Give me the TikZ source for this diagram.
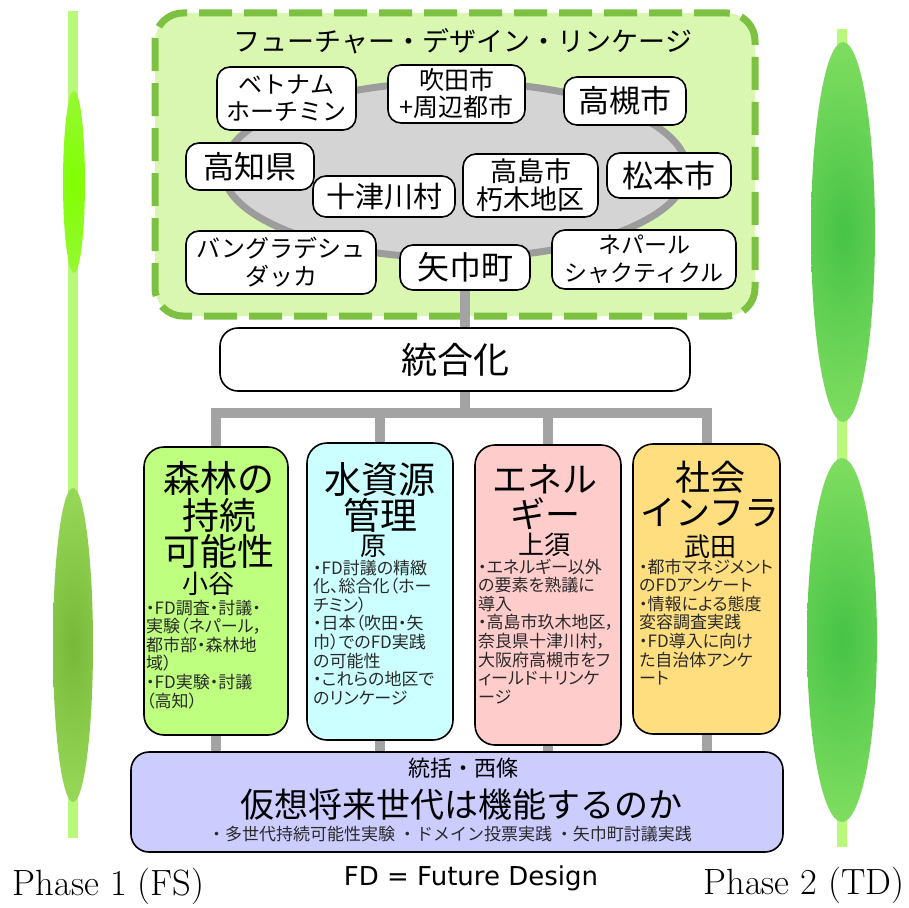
\documentclass[tikz,border=0pt]{standalone}
\usepackage{fontspec}
\usetikzlibrary{shapes.geometric}
\newfontfamily\jp{Noto Sans CJK JP}
\newfontfamily\jpp[RawFeature=+palt]{Noto Sans CJK JP}
\newfontfamily\fdsans{DejaVu Sans}
\definecolor{phl}{HTML}{B8F87A}
\definecolor{phAc}{HTML}{80FF00}
\definecolor{phAo}{HTML}{ABF265}
\definecolor{phBc}{HTML}{78B838}
\definecolor{phRc}{HTML}{46C346}
\definecolor{fdg}{HTML}{7CC142}
\definecolor{fdf}{HTML}{D9F7B0}
\definecolor{ellf}{HTML}{D4D4D4}
\definecolor{ellb}{HTML}{9C9C9C}
\definecolor{connc}{HTML}{A3A3A3}
\definecolor{tgreen}{HTML}{BFFF80}
\definecolor{tcyan}{HTML}{CCFFFF}
\definecolor{tpink}{HTML}{FFCCCC}
\definecolor{tyell}{HTML}{FFDE80}
\definecolor{tlav}{HTML}{CCCCFF}
\definecolor{bodyc}{HTML}{2A2A2A}
\pgfdeclareradialshading{shLA}{\pgfpoint{0bp}{0bp}}{color(0bp)=(phAc); color(50bp)=(phAo)}
\pgfdeclareradialshading{shLB}{\pgfpoint{0bp}{0bp}}{color(0bp)=(phBc); color(50bp)=(phl)}
\pgfdeclareradialshading{shR}{\pgfpoint{0bp}{0bp}}{color(0bp)=(phRc); color(50bp)=(phl)}
\pgfdeclarelayer{back}
\pgfdeclarelayer{mid}
\pgfsetlayers{back,mid,main}
\begin{document}
\begin{tikzpicture}[x=1pt,y=-1pt,
  loc/.style={draw=black,line width=1.6pt,fill=white,rounded corners=13pt,inner sep=0pt,align=center,text=black},
  theme/.style={draw=black,line width=1.6pt,rounded corners=20pt,inner sep=0pt},
  ttlA/.style={inner sep=0pt,align=center,font=\jp\fontsize{37}{36.75}\selectfont},
  ttlB/.style={inner sep=0pt,align=center,font=\jp\fontsize{35}{35}\selectfont},
  nm/.style={inner sep=0pt,font=\jp\fontsize{26}{26}\selectfont},
  body/.style={inner sep=0pt,align=left,anchor=north west,text=bodyc,font=\jpp\fontsize{17}{18.6}\selectfont},
  conn/.style={draw=connc,line width=10pt},
  phlabel/.style={inner sep=0pt,font=\fontsize{36.5}{36.5}\selectfont}
]
\useasboundingbox (0,0) rectangle (909,907);

% phase bars
\fill[phl] (68,11) rectangle (78,838);
\begin{scope}
\clip (74,182) ellipse [x radius=11pt,y radius=91pt];
\shade[shading=shLA] (46.5,91) rectangle (101.5,273);
\end{scope}
\begin{scope}
\clip (73,645) ellipse [x radius=20pt,y radius=157pt];
\shade[shading=shLB] (23,488) rectangle (123,802);
\end{scope}
\fill[phl] (837,29) rectangle (847,847);
\begin{scope}
\clip (843,232) ellipse [x radius=32pt,y radius=190pt];
\shade[shading=shR] (763,42) rectangle (923,422);
\end{scope}
\begin{scope}
\clip (842,640) ellipse [x radius=35pt,y radius=182pt];
\shade[shading=shR] (754.5,458) rectangle (929.5,822);
\end{scope}
\node[phlabel] (p1) at (108.5,886) {Phase 1 (FS)};
\node[phlabel] (p2) at (804,885) {Phase 2 (TD)};
\node[inner sep=0pt,font=\fdsans\fontsize{26}{26}\selectfont] (fdn) at (471,878) {FD = Future Design};

% linkage area
\begin{pgfonlayer}{back}
\node[draw=fdg,fill=fdf,line width=7pt,dash pattern=on 33pt off 12pt,rounded corners=28pt,
      minimum width=600pt,minimum height=303pt,inner sep=0pt] (fdl) at (455,164.5) {};
\node[ellipse,draw=ellb,fill=ellf,line width=7pt,minimum width=464pt,minimum height=176pt,inner sep=0pt] (ring) at (455,170) {};
\end{pgfonlayer}
\node[inner sep=0pt,font=\jp\fontsize{27}{27}\selectfont] (ttl) at (463,41) {フューチャー・デザイン・リンケージ};

\node[loc,minimum width=139pt,minimum height=63pt,font=\jp\fontsize{24}{27}\selectfont] (viet) at (286.5,98.5) {ベトナム\\ホーチミン};
\node[loc,minimum width=137pt,minimum height=58pt,font=\jp\fontsize{25}{27}\selectfont] (suita) at (456.5,94) {吹田市\\+周辺都市};
\node[loc,minimum width=122pt,minimum height=48pt,font=\jp\fontsize{31}{31}\selectfont] (taka) at (625,101) {高槻市};
\node[loc,minimum width=128pt,minimum height=47pt,font=\jp\fontsize{31}{31}\selectfont] (kochi) at (250,166.5) {高知県};
\node[loc,minimum width=142pt,minimum height=41pt,font=\jp\fontsize{29}{29}\selectfont] (totsu) at (384,196.5) {十津川村};
\node[loc,minimum width=135pt,minimum height=63pt,font=\jp\fontsize{27}{28}\selectfont] (tksm) at (530.5,185.5) {高島市\\朽木地区};
\node[loc,minimum width=124pt,minimum height=45pt,font=\jp\fontsize{31}{31}\selectfont] (matsu) at (669,175.5) {松本市};
\node[loc,minimum width=190pt,minimum height=63pt,font=\jp\fontsize{24}{28}\selectfont] (bang) at (281,262.5) {バングラデシュ\\ダッカ};
\node[loc,minimum width=130pt,minimum height=45pt,font=\jp\fontsize{32}{32}\selectfont] (yahaba) at (465,267.5) {矢巾町};
\node[loc,minimum width=184pt,minimum height=59pt,font=\jp\fontsize{23}{28}\selectfont] (nepal) at (644,259.5) {ネパール\\シャクティクル};

% integration
\node[loc,rounded corners=18pt,minimum width=470pt,minimum height=63pt,font=\jp\fontsize{36}{36}\selectfont] (togo) at (455,359.5) {統合化};
\coordinate (hub) at (465,413);

% theme boxes
\node[theme,fill=tgreen,minimum width=144pt,minimum height=288pt] (b1) at (216,591) {};
\node[theme,fill=tcyan,minimum width=146pt,minimum height=297pt] (b2) at (380,591.5) {};
\node[theme,fill=tpink,minimum width=146pt,minimum height=300pt] (b3) at (548,595) {};
\node[theme,fill=tyell,minimum width=147pt,minimum height=290pt] (b4) at (706.5,589) {};

\node[ttlA] (t1) at (219,515) {森林の\\持続\\可能性};
\node[nm] (n1) at (208,584) {小谷};
\node[body] (d1) at (146,599.5) {・FD調査・討議・\\実験（ネパール，\\都市部・森林地\\域）\\・FD実験・討議\\（高知）};

\node[ttlA] (t2) at (380,497.5) {水資源\\管理};
\node[nm] (n2) at (373,546) {原};
\node[body] (d2) at (313,559.5) {・FD討議の精緻\\化、総合化（ホー\\チミン）\\・日本（吹田・矢\\巾）でのFD実践\\の可能性\\・これらの地区で\\のリンケージ};

\node[ttlB] (t3) at (545,497.5) {エネル\\ギー};
\node[nm] (n3) at (544,545) {上須};
\node[body] (d3) at (478,558.5) {・エネルギー以外\\の要素を熟議に\\導入\\・高島市玖木地区，\\奈良県十津川村，\\大阪府高槻市をフ\\ィールド＋リンケ\\ージ};

\node[ttlB] (t4) at (710,494.5) {社会\\インフラ};
\node[nm] (n4) at (710,547) {武田};
\node[body] (d4) at (639,558.5) {・都市マネジメント\\のFDアンケート\\・情報による態度\\変容調査実践\\・FD導入に向け\\た自治体アンケ\\ート};

% bottom box
\node[theme,fill=tlav,rounded corners=18pt,minimum width=652pt,minimum height=100pt] (bot) at (457,802) {};
\node[inner sep=0pt,font=\jp\fontsize{22}{22}\selectfont] (bt1) at (463,768) {統括・西條};
\node[inner sep=0pt,font=\jp\fontsize{34}{34}\selectfont] (bt2) at (461,805) {仮想将来世代は機能するのか};
\node[inner sep=0pt,text=bodyc,font=\jp\fontsize{17}{17}\selectfont] (bt3) at (450,834) {・多世代持続可能性実験 ・ドメイン投票実践 ・矢巾町討議実践};

% connectors
\begin{pgfonlayer}{mid}
\draw[conn] (yahaba.south) -- (yahaba.south |- togo.north);
\draw[conn] (yahaba.south |- togo.south) -- (hub);
\draw[conn] (b1.north) -- (b1.north |- hub) -- (b4.north |- hub) -- (b4.north);
\draw[conn] (b2.north) -- (b2.north |- hub);
\draw[conn] (b3.north) -- (b3.north |- hub);
\draw[conn] (b1.south) -- (b1.south |- bot.north);
\draw[conn] (b2.south) -- (b2.south |- bot.north);
\draw[conn] (b3.south) -- (b3.south |- bot.north);
\draw[conn] (b4.south) -- (b4.south |- bot.north);
\end{pgfonlayer}
\end{tikzpicture}
\end{document}
